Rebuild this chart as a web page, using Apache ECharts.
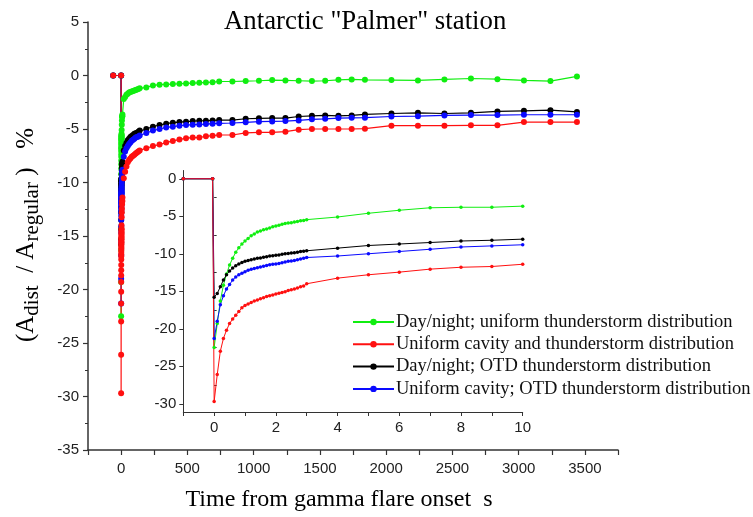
<!DOCTYPE html>
<html><head><meta charset="utf-8">
<script src="https://cdn.jsdelivr.net/npm/echarts@6/dist/echarts.min.js"></script>
<style>html,body{margin:0;padding:0;background:#fff}#c{width:753px;height:517px}</style>
</head><body><div id="c"></div>
<script>
const seriesNames = [
  'Day/night; uniform thunderstorm distribution',
  'Uniform cavity and thunderstorm distribution',
  'Day/night; OTD thunderstorm distribution',
  'Uniform cavity; OTD thunderstorm distribution'
];
const seriesColors = ['#10ee10', '#ff1010', '#000000', '#0a0aff'];

// Inset: time in seconds (pre-flare, drop, dense 0.1 s steps, then 1 s steps)
const insetTimes = [-1, -0.05, 0, 0.1, 0.2, 0.3, 0.4, 0.5, 0.6, 0.7, 0.8, 0.9, 1.0,
  1.1, 1.2, 1.3, 1.4, 1.5, 1.6, 1.7, 1.8, 1.9, 2.0, 2.1, 2.2, 2.3, 2.4, 2.5,
  2.6, 2.7, 2.8, 2.9, 3.0, 4, 5, 6, 7, 8, 9, 10];
const greenInset = [0, 0, -22.5, -19.3, -16.3, -14.2, -12.7, -11.5, -10.6, -9.8, -9.2, -8.7, -8.3,
  -7.95, -7.6, -7.35, -7.1, -6.95, -6.8, -6.7, -6.55, -6.4, -6.3, -6.2, -6.05, -5.95, -5.9, -5.85,
  -5.75, -5.7, -5.6, -5.55, -5.45, -5.1, -4.6, -4.2, -3.87, -3.8, -3.8, -3.65];
const redInset = [0, 0, -29.7, -26.1, -23.0, -21.3, -20.2, -19.3, -18.7, -18.2, -17.7, -17.2, -16.9,
  -16.7, -16.5, -16.3, -16.15, -16.0, -15.85, -15.7, -15.6, -15.5, -15.35, -15.25, -15.15, -15.05, -14.9, -14.8,
  -14.7, -14.55, -14.4, -14.3, -14.0, -13.25, -12.8, -12.45, -12.05, -11.8, -11.7, -11.4];
const blackInset = [0, 0, -15.8, -15.3, -14.4, -13.5, -12.8, -12.3, -11.9, -11.6, -11.35, -11.15, -11.0,
  -10.9, -10.8, -10.7, -10.6, -10.55, -10.45, -10.4, -10.3, -10.25, -10.2, -10.15, -10.05, -10.0, -9.95, -9.9,
  -9.85, -9.8, -9.7, -9.65, -9.6, -9.25, -8.9, -8.7, -8.5, -8.3, -8.2, -8.05];
const blueInset = [0, 0, -21.3, -19.0, -16.8, -15.6, -14.7, -14.1, -13.5, -13.1, -12.8, -12.6, -12.4,
  -12.2, -12.05, -11.95, -11.85, -11.75, -11.65, -11.55, -11.45, -11.4, -11.35, -11.3, -11.2, -11.1, -11.0, -10.95,
  -10.9, -10.8, -10.7, -10.6, -10.5, -10.3, -10.0, -9.7, -9.4, -9.1, -8.95, -8.8];

// Main plot: pre-flare point, then the inset data, then later times
const preTime = [-60];
const preValue = [0];
const lateTimes = [20, 30, 40, 50, 60, 70, 80, 90, 100, 110, 120, 130,
  140, 190, 240, 290, 340, 390, 440, 490, 540, 590, 640, 690, 740,
  840, 940, 1040, 1140, 1240, 1340, 1440, 1540, 1640, 1740, 1840,
  2040, 2240, 2440, 2640, 2840, 3040, 3240, 3440];
const greenLate = [-2.2, -2.0, -1.8, -1.7, -1.6, -1.55, -1.5, -1.45, -1.4, -1.35, -1.3, -1.25,
  -1.2, -1.11, -0.93, -0.86, -0.83, -0.8, -0.77, -0.74, -0.71, -0.68, -0.65, -0.62, -0.56,
  -0.56, -0.52, -0.49, -0.43, -0.46, -0.49, -0.52, -0.49, -0.4, -0.37, -0.4,
  -0.43, -0.46, -0.37, -0.28, -0.34, -0.46, -0.52, -0.09];
const redLate = [-9.6, -9.0, -8.5, -8.1, -7.9, -7.75, -7.6, -7.5, -7.4, -7.3, -7.2, -7.1,
  -7.0, -6.8, -6.6, -6.45, -6.27, -6.11, -5.99, -5.86, -5.8, -5.8, -5.68, -5.62, -5.56,
  -5.56, -5.37, -5.31, -5.31, -5.25, -5.06, -5.0, -5.0, -5.0, -5.0, -4.97,
  -4.69, -4.69, -4.69, -4.66, -4.66, -4.35, -4.35, -4.35];
const blackLate = [-7.0, -6.6, -6.3, -6.05, -5.9, -5.75, -5.65, -5.55, -5.45, -5.4, -5.35, -5.25,
  -5.15, -5.0, -4.78, -4.63, -4.5, -4.41, -4.35, -4.32, -4.26, -4.23, -4.23, -4.2, -4.17,
  -4.17, -4.04, -4.0, -3.98, -3.98, -3.83, -3.77, -3.73, -3.77, -3.73, -3.64,
  -3.55, -3.49, -3.55, -3.49, -3.36, -3.3, -3.24, -3.4];
const blueLate = [-7.6, -7.1, -6.8, -6.6, -6.4, -6.25, -6.1, -6.0, -5.9, -5.8, -5.75, -5.7,
  -5.6, -5.37, -5.15, -5.0, -4.85, -4.78, -4.69, -4.63, -4.6, -4.57, -4.54, -4.5, -4.47,
  -4.44, -4.38, -4.32, -4.29, -4.26, -4.2, -4.1, -4.05, -3.98, -3.96, -3.94,
  -3.83, -3.8, -3.73, -3.7, -3.7, -3.67, -3.67, -3.67];

const mainXTicks = [0, 500, 1000, 1500, 2000, 2500, 3000, 3500];
const mainYTicks = [-35, -30, -25, -20, -15, -10, -5, 0, 5];
const insetYTicks = [-30, -25, -20, -15, -10, -5, 0];
const insetYMinor = [-27.5, -22.5, -17.5, -12.5, -7.5, -2.5];
const insetXTicks = [0, 2, 4, 6, 8, 10];

const zip = (t, v) => t.map((x, i) => [x, v[i]]);
const insetSets = [greenInset, redInset, blackInset, blueInset];
const lateSets = [greenLate, redLate, blackLate, blueLate];
const mainData = insetSets.map((s, k) =>
  zip(preTime, preValue).concat(zip(insetTimes.slice(1), s.slice(1))).concat(zip(lateTimes, lateSets[k])));
const insetData = insetSets.map(s => zip(insetTimes, s));

const drawOrder = [0, 2, 3, 1];
const series = [];
drawOrder.forEach(k => {
  series.push({
    name: seriesNames[k], type: 'line', xAxisIndex: 0, yAxisIndex: 0,
    data: mainData[k], symbol: 'circle', symbolSize: 6, showSymbol: true,
    itemStyle: { color: seriesColors[k] }, lineStyle: { width: 1.2, color: seriesColors[k] },
    z: 3
  });
});
drawOrder.forEach(k => {
  series.push({
    name: seriesNames[k], type: 'line', xAxisIndex: 1, yAxisIndex: 1,
    data: insetData[k], symbol: 'circle', symbolSize: 3.5, showSymbol: true,
    itemStyle: { color: seriesColors[k] }, lineStyle: { width: 1, color: seriesColors[k] },
    z: 3
  });
});

const sans = 'Liberation Sans, Arial, sans-serif';
const serif = 'Liberation Serif, Times New Roman, serif';
const axisCol = '#333';

const chart = echarts.init(document.getElementById('c'), null, { renderer: 'canvas' });
chart.setOption({
  animation: false,
  backgroundColor: '#fff',
  title: {
    text: 'Antarctic "Palmer" station', left: 224, top: 8, padding: 0,
    textStyle: { fontFamily: serif, fontSize: 26.8, fontWeight: 'normal', color: '#000' }
  },
  legend: {
    orient: 'vertical', left: 352, top: 312, padding: 0,
    data: seriesNames, itemWidth: 41, itemHeight: 8, itemGap: 2.3,
    textStyle: { fontFamily: serif, fontSize: 18.5, color: '#111', lineHeight: 20, padding: [0, 0, 0, -3] }
  },
  grid: [
    { left: 88, top: 22, right: 135, bottom: 63 },
    { left: 183.3, top: 170.5, width: 339.4, height: 241.5 }
  ],
  xAxis: [
    {
      type: 'value', gridIndex: 0, min: -250, max: 3750, interval: 250,
      name: 'Time from gamma flare onset  s', nameLocation: 'middle', nameGap: 38,
      nameTextStyle: { fontFamily: serif, fontSize: 24, color: '#000', padding: [0, 28, 0, 0] },
      axisLine: { onZero: false, lineStyle: { color: axisCol, width: 1.5 } },
      axisTick: { inside: false, length: 5, lineStyle: { color: axisCol, width: 1.2 } },
      axisLabel: { margin: 11, fontFamily: sans, fontSize: 15, color: '#222',
        formatter: v => (mainXTicks.indexOf(v) >= 0 ? String(v) : '') },
      splitLine: { show: false }
    },
    {
      type: 'value', gridIndex: 1, min: -1, max: 10, interval: 1,
      axisLine: { onZero: false, lineStyle: { color: axisCol, width: 1 } },
      axisTick: { inside: false, length: 4, lineStyle: { color: axisCol } },
      axisLabel: { margin: 8, fontFamily: sans, fontSize: 15, color: '#222',
        formatter: v => (insetXTicks.indexOf(v) >= 0 ? String(v) : '') },
      splitLine: { show: false }
    }
  ],
  yAxis: [
    {
      type: 'value', gridIndex: 0, min: -35, max: 5, interval: 5,
      axisLine: { show: true, onZero: false, lineStyle: { color: axisCol, width: 1.5 } },
      axisTick: { show: true, inside: false, length: 5, lineStyle: { color: axisCol, width: 1.2 } },
      minorTick: { show: true, splitNumber: 2, length: 3, lineStyle: { color: axisCol } },
      axisLabel: { margin: 9, fontFamily: sans, fontSize: 15, color: '#222',
        formatter: v => (mainYTicks.indexOf(v) >= 0 ? String(v) : '') },
      splitLine: { show: false }
    },
    {
      type: 'value', gridIndex: 1, min: -31.1, max: 1.1,
      axisLine: { show: true, onZero: false, lineStyle: { color: axisCol, width: 1 } },
      axisTick: { show: true, inside: false, length: 4, customValues: insetYTicks, lineStyle: { color: axisCol } },
      axisLabel: { margin: 7, fontFamily: sans, fontSize: 15, color: '#222', customValues: insetYTicks },
      splitLine: { show: false }
    },
    {
      type: 'value', gridIndex: 1, min: -31.1, max: 1.1,
      axisLine: { show: false },
      axisTick: { show: true, inside: false, length: 2.5, customValues: insetYMinor, lineStyle: { color: axisCol } },
      axisLabel: { show: false },
      splitLine: { show: false }
    }
  ],
  graphic: [{
    type: 'text', x: 26, y: 235, rotation: Math.PI / 2,
    style: {
      text: '{a|(A}{b|dist}{a|  / A}{b|regular}{a| )   %}',
      align: 'center', verticalAlign: 'middle',
      rich: {
        a: { fontFamily: serif, fontSize: 25, color: '#000', lineHeight: 34, verticalAlign: 'middle' },
        b: { fontFamily: serif, fontSize: 21, color: '#000', lineHeight: 21, verticalAlign: 'bottom' }
      }
    }
  }],
  series: series
});
</script></body></html>
